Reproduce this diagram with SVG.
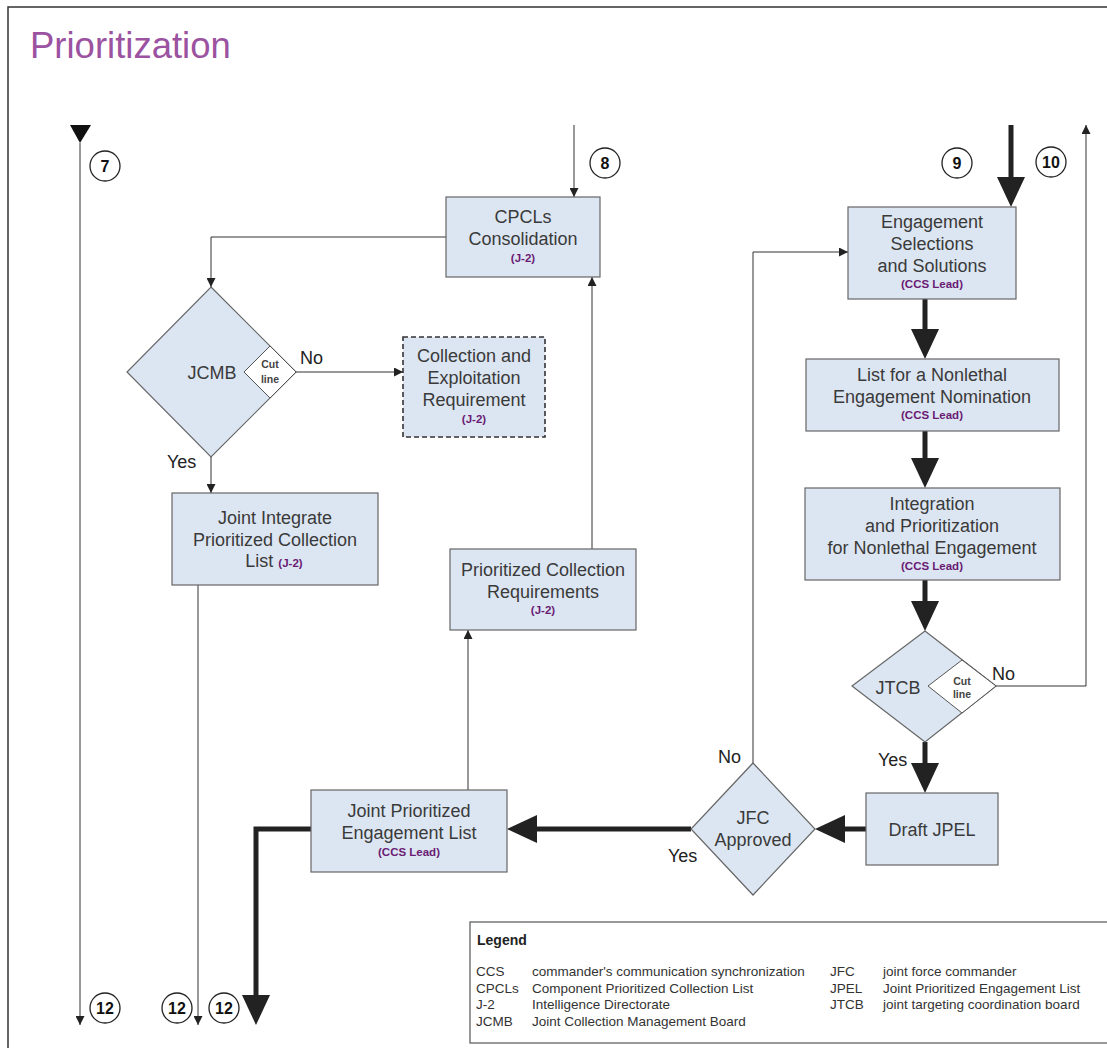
<svg xmlns="http://www.w3.org/2000/svg" width="1107" height="1048" viewBox="0 0 1107 1048">
  <defs>
    <style>
      text { font-family: "Liberation Sans", Arial, sans-serif; }
      .box { fill: #dce6f2; stroke: #666; stroke-width: 1.2; }
      .dashed { stroke: #333; stroke-width: 1.6; stroke-dasharray: 5,3; }
      .cut { fill: #ffffff; stroke: #555; stroke-width: 1; }
      .t { font-size: 18px; fill: #3a3a3a; text-anchor: middle; }
      .who { font-size: 11.5px; font-weight: bold; fill: #6a1b74; text-anchor: middle; }
      .cutt { font-size: 10.5px; font-weight: bold; fill: #444; text-anchor: middle; }
      .lbl { font-size: 18px; fill: #222; }
      .num { fill: #fff; stroke: #222; stroke-width: 1.3; }
      .numt { font-size: 16px; font-weight: bold; fill: #111; text-anchor: middle; }
      .thin { fill: none; stroke: #333; stroke-width: 1; marker-end: url(#small); }
      .thick { fill: none; stroke: #222; stroke-width: 5; marker-end: url(#big); }
      .lg { font-size: 13.5px; fill: #333; }
    </style>
    <marker id="small" markerUnits="userSpaceOnUse" markerWidth="9" markerHeight="9" refX="9" refY="4.5" orient="auto">
      <path d="M0,0 L9,4.5 L0,9 Z" fill="#222"/>
    </marker>
    <marker id="big" markerUnits="userSpaceOnUse" markerWidth="30" markerHeight="28" refX="12" refY="14" orient="auto">
      <path d="M0,0 L30,14 L0,28 Z" fill="#222"/>
    </marker>
  </defs>

  <!-- frame and title -->
  <rect x="8" y="7" width="1110" height="1060" fill="#fff" stroke="#333" stroke-width="1.5"/>
  <text x="30" y="58" font-size="36.5" fill="#9b52a0">Prioritization</text>

  <!-- connectors -->
  <g id="connectors">
    <polygon points="70,125 91,125 80,143" fill="#111"/>
    <path class="thin" d="M80,143 V1025"/>
    <path class="thin" d="M574,125 V197"/>
    <path class="thin" d="M446,237 H211 V287"/>
    <path class="thin" d="M296,372 H403"/>
    <path class="thin" d="M211,457 V493"/>
    <path class="thin" d="M198,585 V1025"/>
    <path class="thin" d="M592,549 V277"/>
    <path class="thin" d="M468,790 V630"/>
    <path class="thin" d="M753,763 V252 H848"/>
    <path class="thin" d="M996,686 H1086 V125"/>
    <path class="thick" d="M1011,125 V189"/>
    <path class="thick" d="M925,299 V341"/>
    <path class="thick" d="M925,431 V470"/>
    <path class="thick" d="M925,580 V613"/>
    <path class="thick" d="M925,742 V775"/>
    <path class="thick" d="M866,829 H833"/>
    <path class="thick" d="M691,829 H525"/>
    <path class="thick" d="M311,829 H256 V1007"/>
  </g>

  <!-- off-page connector numbers -->
  <g id="num7"><circle class="num" cx="105" cy="166" r="15"/><text class="numt" x="105" y="172">7</text></g>
  <g id="num8"><circle class="num" cx="605" cy="163" r="15"/><text class="numt" x="605" y="169">8</text></g>
  <g id="num9"><circle class="num" cx="957" cy="163" r="15"/><text class="numt" x="957" y="169">9</text></g>
  <g id="num10"><circle class="num" cx="1051" cy="162" r="15"/><text class="numt" x="1051" y="168">10</text></g>
  <g id="num12a"><circle class="num" cx="105" cy="1008" r="15"/><text class="numt" x="105" y="1014">12</text></g>
  <g id="num12b"><circle class="num" cx="177" cy="1008" r="15"/><text class="numt" x="177" y="1014">12</text></g>
  <g id="num12c"><circle class="num" cx="224" cy="1008" r="15"/><text class="numt" x="224" y="1014">12</text></g>

  <!-- nodes -->
  <g id="cpcls-consolidation">
    <rect class="box" x="446" y="197" width="154" height="80"/>
    <text class="t" x="523" y="223">CPCLs</text>
    <text class="t" x="523" y="245">Consolidation</text>
    <text class="who" x="523" y="262">(J-2)</text>
  </g>

  <g id="jcmb">
    <polygon class="box" points="211,287 296,372 211,457 127,372"/>
    <polygon class="cut" points="244,372 270,346 296,372 270,398"/>
    <text class="t" x="212" y="379">JCMB</text>
    <text class="cutt" x="270" y="368">Cut</text>
    <text class="cutt" x="270" y="383">line</text>
    <text class="lbl" x="300" y="364">No</text>
    <text class="lbl" x="167" y="468">Yes</text>
  </g>

  <g id="collection-exploitation">
    <rect class="box dashed" x="403" y="337" width="142" height="100"/>
    <text class="t" x="474" y="362">Collection and</text>
    <text class="t" x="474" y="384">Exploitation</text>
    <text class="t" x="474" y="406">Requirement</text>
    <text class="who" x="474" y="423">(J-2)</text>
  </g>

  <g id="jipcl">
    <rect class="box" x="172" y="493" width="206" height="92"/>
    <text class="t" x="275" y="524">Joint Integrate</text>
    <text class="t" x="275" y="546">Prioritized Collection</text>
    <text class="t" x="274" y="567">List <tspan font-size="11.5" font-weight="bold" fill="#6a1b74">(J-2)</tspan></text>
  </g>

  <g id="prioritized-collection-requirements">
    <rect class="box" x="450" y="549" width="186" height="81"/>
    <text class="t" x="543" y="576">Prioritized Collection</text>
    <text class="t" x="543" y="598">Requirements</text>
    <text class="who" x="543" y="614">(J-2)</text>
  </g>

  <g id="engagement-selections">
    <rect class="box" x="848" y="207" width="168" height="92"/>
    <text class="t" x="932" y="228">Engagement</text>
    <text class="t" x="932" y="250">Selections</text>
    <text class="t" x="932" y="272">and Solutions</text>
    <text class="who" x="932" y="288">(CCS Lead)</text>
  </g>

  <g id="nonlethal-nomination">
    <rect class="box" x="806" y="359" width="253" height="72"/>
    <text class="t" x="932" y="381">List for a Nonlethal</text>
    <text class="t" x="932" y="403">Engagement Nomination</text>
    <text class="who" x="932" y="419">(CCS Lead)</text>
  </g>

  <g id="integration-prioritization">
    <rect class="box" x="805" y="488" width="255" height="92"/>
    <text class="t" x="932" y="510">Integration</text>
    <text class="t" x="932" y="532">and Prioritization</text>
    <text class="t" x="932" y="554">for Nonlethal Engagement</text>
    <text class="who" x="932" y="570">(CCS Lead)</text>
  </g>

  <g id="jtcb">
    <polygon class="box" points="925,631 996,686 925,742 852,686"/>
    <polygon class="cut" points="928,686 962,660 996,686 962,713"/>
    <text class="t" x="898" y="694">JTCB</text>
    <text class="cutt" x="962" y="685">Cut</text>
    <text class="cutt" x="962" y="698">line</text>
    <text class="lbl" x="992" y="680">No</text>
    <text class="lbl" x="878" y="766">Yes</text>
  </g>

  <g id="draft-jpel">
    <rect class="box" x="866" y="793" width="132" height="72"/>
    <text class="t" x="932" y="836">Draft JPEL</text>
  </g>

  <g id="jfc-approved">
    <polygon class="box" points="753,763 815,829 753,895 691,829"/>
    <text class="t" x="753" y="824">JFC</text>
    <text class="t" x="753" y="846">Approved</text>
    <text class="lbl" x="718" y="763">No</text>
    <text class="lbl" x="668" y="862">Yes</text>
  </g>

  <g id="jpel">
    <rect class="box" x="311" y="790" width="196" height="82"/>
    <text class="t" x="409" y="817">Joint Prioritized</text>
    <text class="t" x="409" y="839">Engagement List</text>
    <text class="who" x="409" y="856">(CCS Lead)</text>
  </g>

  <!-- legend -->
  <g id="legend">
    <rect x="470" y="922" width="645" height="121" fill="#fff" stroke="#555" stroke-width="1.2"/>
    <text x="477" y="945" font-size="14" font-weight="bold" fill="#222">Legend</text>
    <text class="lg" x="476" y="976">CCS</text>
    <text class="lg" x="532" y="976">commander's communication synchronization</text>
    <text class="lg" x="476" y="993">CPCLs</text>
    <text class="lg" x="532" y="993">Component Prioritized Collection List</text>
    <text class="lg" x="476" y="1009">J-2</text>
    <text class="lg" x="532" y="1009">Intelligence Directorate</text>
    <text class="lg" x="476" y="1026">JCMB</text>
    <text class="lg" x="532" y="1026">Joint Collection Management Board</text>
    <text class="lg" x="830" y="976">JFC</text>
    <text class="lg" x="883" y="976">joint force commander</text>
    <text class="lg" x="830" y="993">JPEL</text>
    <text class="lg" x="883" y="993">Joint Prioritized Engagement List</text>
    <text class="lg" x="830" y="1009">JTCB</text>
    <text class="lg" x="883" y="1009">joint targeting coordination board</text>
  </g>
</svg>
